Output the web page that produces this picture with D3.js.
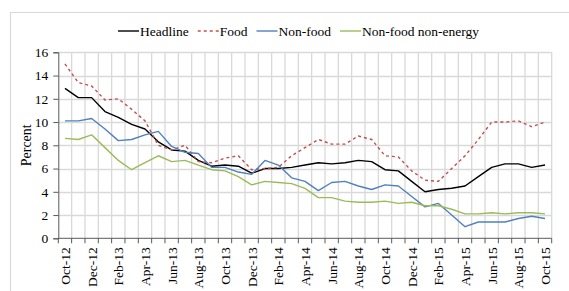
<!DOCTYPE html>
<html>
<head>
<meta charset="utf-8">
<script src="https://cdn.jsdelivr.net/npm/d3@7"></script>
<style>
  body { margin: 0; background: #fff; }
  svg { display: block; font-family: "Liberation Serif", "Times New Roman", serif; }
</style>
</head>
<body>
<svg id="chart" width="569" height="291"></svg>
<script>
// monthly, Oct-12 .. Oct-15
const months = ["Oct-12","Nov-12","Dec-12","Jan-13","Feb-13","Mar-13","Apr-13","May-13","Jun-13","Jul-13",
  "Aug-13","Sep-13","Oct-13","Nov-13","Dec-13","Jan-14","Feb-14","Mar-14","Apr-14","May-14",
  "Jun-14","Jul-14","Aug-14","Sep-14","Oct-14","Nov-14","Dec-14","Jan-15","Feb-15","Mar-15",
  "Apr-15","May-15","Jun-15","Jul-15","Aug-15","Sep-15","Oct-15"]

const headline = [12.9, 12.1, 12.1, 10.9, 10.4, 9.8, 9.4, 8.3, 7.6, 7.5, 6.7, 6.2, 6.3, 6.2, 5.6, 6.0, 6.0, 6.1,
  6.3, 6.5, 6.4, 6.5, 6.7, 6.6, 5.9, 5.8, 4.9, 4.0, 4.2, 4.3, 4.5, 5.3, 6.1, 6.4, 6.4, 6.1, 6.3]
const food = [15.0, 13.4, 13.1, 11.9, 12.0, 11.1, 10.1, 8.0, 7.6, 8.0, 6.6, 6.5, 6.9, 7.1, 5.9, 6.0, 6.1, 7.1,
  7.8, 8.5, 8.1, 8.1, 8.8, 8.5, 7.1, 7.0, 5.8, 5.0, 4.9, 6.0, 7.1, 8.5, 10.0, 10.0, 10.1, 9.6, 10.0]
const nonFood = [10.1, 10.1, 10.3, 9.4, 8.4, 8.5, 8.9, 9.2, 7.9, 7.4, 7.3, 6.1, 6.1, 5.7, 5.5, 6.7, 6.3, 5.2,
  4.9, 4.1, 4.8, 4.9, 4.5, 4.2, 4.6, 4.5, 3.6, 2.7, 3.0, 2.0, 1.0, 1.4, 1.4, 1.4, 1.7, 1.9, 1.7]
const nonFoodNonEnergy = [8.6, 8.5, 8.9, 7.8, 6.7, 5.9, 6.5, 7.1, 6.6, 6.7, 6.3, 5.9, 5.8, 5.3, 4.6, 4.9, 4.8, 4.7,
  4.3, 3.5, 3.5, 3.2, 3.1, 3.1, 3.2, 3.0, 3.1, 2.8, 2.8, 2.5, 2.1, 2.1, 2.2, 2.1, 2.2, 2.2, 2.1]

const yTicks = [0, 2, 4, 6, 8, 10, 12, 14, 16]

const series = [
  { name: "Headline", values: headline, color: "#000000", dash: null },
  { name: "Food", values: food, color: "#c0504d", dash: "3,3" },
  { name: "Non-food", values: nonFood, color: "#4f81bd", dash: null },
  { name: "Non-food non-energy", values: nonFoodNonEnergy, color: "#9bbb59", dash: null }
]

const svg = d3.select("#chart")
const plot = { left: 58.3, right: 551.7, top: 52.3, bottom: 238.3 }

const x = d3.scaleBand()
  .domain(months)
  .range([plot.left, plot.right])
  .padding(0)

const y = d3.scaleLinear()
  .domain([0, 16])
  .range([plot.bottom, plot.top])

// outer frame (only top and left edges fall inside the picture)
svg.append("path")
  .attr("d", "M10.5,291 V12.5 H569")
  .attr("fill", "none")
  .attr("stroke", "#d9d9d9")
  .attr("stroke-width", 1.2)

// horizontal gridlines
svg.append("g")
  .selectAll("line")
  .data(yTicks.filter(d => d > 0))
  .enter().append("line")
  .attr("x1", plot.left)
  .attr("x2", plot.right)
  .attr("y1", d => Math.round(y(d)) + 0.5)
  .attr("y2", d => Math.round(y(d)) + 0.5)
  .attr("stroke", "#d9d9d9")
  .attr("stroke-width", 1.3)

// vertical gridlines on category boundaries
const bounds = months.slice(1).map(m => x(m)).concat([plot.right])
svg.append("g")
  .selectAll("line")
  .data(bounds)
  .enter().append("line")
  .attr("x1", d => d)
  .attr("x2", d => d)
  .attr("y1", plot.top)
  .attr("y2", plot.bottom)
  .attr("stroke", "#d9d9d9")
  .attr("stroke-width", 1.3)

// y axis
const yAxis = d3.axisLeft(y)
  .tickValues(yTicks)
  .tickSize(5)
  .tickPadding(5)
  .tickFormat(d3.format("d"))

svg.append("g")
  .attr("transform", "translate(" + plot.left + ",0)")
  .call(yAxis)
  .call(g => g.select(".domain").attr("stroke", "#595959"))
  .call(g => g.selectAll(".tick line").attr("stroke", "#595959"))
  .call(g => g.selectAll("text")
    .attr("font-family", "Liberation Serif")
    .attr("font-size", 13.5)
    .attr("fill", "#000"))

// x axis line and boundary ticks
svg.append("line")
  .attr("x1", plot.left)
  .attr("x2", plot.right)
  .attr("y1", plot.bottom)
  .attr("y2", plot.bottom)
  .attr("stroke", "#595959")

svg.append("g")
  .selectAll("line")
  .data([plot.left].concat(bounds))
  .enter().append("line")
  .attr("x1", d => d)
  .attr("x2", d => d)
  .attr("y1", plot.bottom)
  .attr("y2", plot.bottom + 5)
  .attr("stroke", "#595959")

// every other month label, rotated
svg.append("g")
  .selectAll("text")
  .data(months.filter((m, i) => i % 2 == 0))
  .enter().append("text")
  .attr("transform", d => "translate(" + (x(d) + x.bandwidth() / 2 + 5) + "," + (plot.bottom + 9) + ") rotate(-90)")
  .attr("text-anchor", "end")
  .attr("font-size", 13.5)
  .attr("fill", "#000")
  .text(d => d)

// y title
svg.append("text")
  .attr("transform", "translate(31," + ((plot.top + plot.bottom) / 2) + ") rotate(-90)")
  .attr("text-anchor", "middle")
  .attr("font-size", 14)
  .attr("fill", "#000")
  .text("Percent")

// lines
const line = d3.line()
  .x((d, i) => x(months[i]) + x.bandwidth() / 2)
  .y(d => y(d))

svg.append("g")
  .selectAll("path")
  .data(series)
  .enter().append("path")
  .attr("d", d => line(d.values))
  .attr("fill", "none")
  .attr("stroke", d => d.color)
  .attr("stroke-width", 1.4)
  .attr("stroke-dasharray", d => d.dash)
  .attr("stroke-linejoin", "round")

// legend
const legend = svg.append("g")
let lx = 118
series.forEach(function (s) {
  legend.append("line")
    .attr("x1", lx)
    .attr("x2", lx + 21)
    .attr("y1", 31)
    .attr("y2", 31)
    .attr("stroke", s.color)
    .attr("stroke-width", 1.4)
    .attr("stroke-dasharray", s.dash)
  const t = legend.append("text")
    .attr("x", lx + 22)
    .attr("y", 35.5)
    .attr("font-size", 13.5)
    .attr("fill", "#000")
    .text(s.name)
  lx = lx + 22 + t.node().getComputedTextLength() + 9
})
</script>
</body>
</html>
